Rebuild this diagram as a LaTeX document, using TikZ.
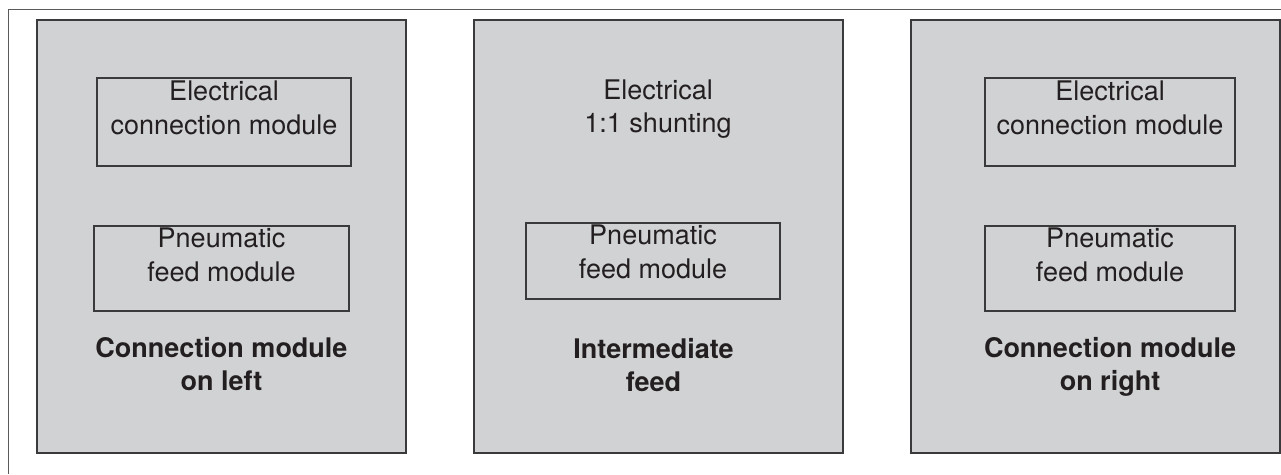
\documentclass[tikz,border=0pt]{standalone}
\usepackage{fontspec}
\setmainfont{TeX Gyre Heros}
\usepackage{tikz}
\usetikzlibrary{positioning}
\definecolor{Panel}{HTML}{D1D2D4}
\definecolor{Edge}{HTML}{3A3A3C}
\definecolor{Ink}{HTML}{231F20}
\definecolor{Frame}{HTML}{5A5A5C}

\begin{document}
\begin{tikzpicture}[x=1pt,y=-1pt,
  every node/.style={font=\fontsize{27}{33.5}\selectfont,align=center,text=Ink},
  panel/.style={draw=Edge,line width=1.4pt,fill=Panel,minimum width=369pt,minimum height=433pt,inner sep=0pt,outer sep=0pt},
  module/.style={draw=Edge,line width=1.2pt,minimum width=254pt,inner sep=0pt},
  caption/.style={inner sep=0pt,text height=30pt,text depth=0pt,anchor=south},
  heading/.style={caption,font=\fontsize{27}{33.5}\selectfont\bfseries}
]
\useasboundingbox (0,0) rectangle (1281,474);
\draw[Frame,line width=1pt] (8,474) -- (8,9) -- (1281,9);
% three mounting variants
\node[panel] (left) at (221.5,236.5) {};
\node[panel,right=68pt of left] (mid) {};
\node[panel,right=68pt of mid] (right) {};
% connection module on left
\node[module,text height=56pt,text depth=32pt] (lelec) at (224,122) {Electrical\\connection module};
\node[module,minimum width=255pt,text height=55pt,text depth=30pt] (lpneu) at (221.5,268.5) {Pneumatic\\feed module};
\node[heading] (lname) at (221.5,391) {Connection module\\on left};
% intermediate feed
\node[caption] (melec) at (658,133) {Electrical\\1:1 shunting};
\node[module,text height=55pt,text depth=21pt] (mpneu) at (653,261) {Pneumatic\\feed module};
\node[heading] (mname) at (653.5,392) {Intermediate\\feed};
% connection module on right
\node[module,minimum width=250pt,text height=56pt,text depth=32pt] (relec) at (1110,122) {Electrical\\connection module};
\node[module,minimum width=250pt,text height=55pt,text depth=30pt] (rpneu) at (1110,268.5) {Pneumatic\\feed module};
\node[heading] (rname) at (1110,391) {Connection module\\on right};
\end{tikzpicture}
\end{document}
